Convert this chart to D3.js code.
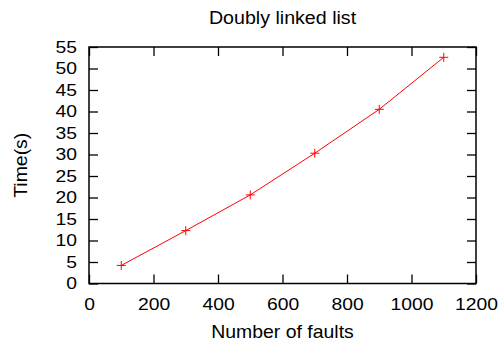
<!DOCTYPE html>
<html>
<head>
<meta charset="utf-8">
<script src="https://cdn.jsdelivr.net/npm/d3@7"></script>
<style>
  body { margin: 0; background: #fff; }
  text { font-family: "Liberation Sans", Arial, sans-serif; fill: #000; }
</style>
</head>
<body>
<svg id="chart"></svg>
<script>
//////////////// Daten ////////////////////
const faults = [100, 300, 500, 700, 900, 1100];
const times = [4.2, 12.3, 20.6, 30.3, 40.5, 52.6];
const xTicks = [0, 200, 400, 600, 800, 1000, 1200];
const yTicks = [0, 5, 10, 15, 20, 25, 30, 35, 40, 45, 50, 55];

//////////////// Layout ////////////////////
const W = 500, H = 348;
const margin = {top: 47, right: 24, bottom: 64.5, left: 89};
const width = W - margin.left - margin.right,
  height = H - margin.top - margin.bottom,
  tickLen = 9;

const svg = d3.select("#chart").attr("width", W).attr("height", H);
const g = svg.append("g")
  .attr("transform", "translate(" + margin.left + "," + margin.top + ")");

const x = d3.scaleLinear().domain([0, 1200]).range([0, width]);
const y = d3.scaleLinear().domain([0, 55]).range([height, 0]);

// Schrift breiter ziehen (Vorlage hat gestreckte Glyphen)
function stretch(sel, f) {
  sel.each(function() {
    const len = this.getComputedTextLength();
    d3.select(this).attr("textLength", len * f).attr("lengthAdjust", "spacingAndGlyphs");
  });
}

// Achsen (Ticks nach innen, auch gespiegelt oben/rechts)
const fmt = d3.format("d");
const xAxis = g.append("g").attr("transform", "translate(0," + height + ")")
  .call(d3.axisBottom(x).tickValues(xTicks).tickFormat(fmt).tickSizeInner(-tickLen).tickSizeOuter(0).tickPadding(15));
g.append("g")
  .call(d3.axisTop(x).tickValues(xTicks).tickSizeInner(-tickLen).tickSizeOuter(0).tickFormat(""));
const yAxis = g.append("g")
  .call(d3.axisLeft(y).tickValues(yTicks).tickFormat(fmt).tickSizeInner(-tickLen).tickSizeOuter(0).tickPadding(12));
g.append("g").attr("transform", "translate(" + width + ",0)")
  .call(d3.axisRight(y).tickValues(yTicks).tickSizeInner(-tickLen).tickSizeOuter(0).tickFormat(""));

g.selectAll(".domain").remove();
g.selectAll(".tick line").attr("stroke", "#000").attr("stroke-width", 1.3);
g.selectAll("g").attr("font-family", null).attr("font-size", null);
g.selectAll(".tick text").style("font-size", "16.5px");
stretch(xAxis.selectAll(".tick text"), 1.17);
stretch(yAxis.selectAll(".tick text"), 1.17);

// Rahmen
g.append("rect")
  .attr("width", width).attr("height", height)
  .attr("fill", "none").attr("stroke", "#000").attr("stroke-width", 1.5);

// Linie
const pts = faults.map((f, i) => ({x: f, y: times[i]}));
g.append("path")
  .datum(pts)
  .attr("fill", "none")
  .attr("stroke", "#ff0000")
  .attr("stroke-width", 1)
  .attr("d", d3.line().x(d => x(d.x)).y(d => y(d.y)));

// Marker (+)
const s = 4.5;
g.selectAll("path.pt")
  .data(pts)
  .enter()
  .append("path")
  .attr("class", "pt")
  .attr("fill", "none")
  .attr("stroke", "#ff0000")
  .attr("stroke-width", 1)
  .attr("d", d => {
    const cx = x(d.x), cy = y(d.y);
    return "M" + (cx - s) + "," + cy + "H" + (cx + s) + "M" + cx + "," + (cy - s) + "V" + (cy + s);
  });

// Titel und Beschriftungen
const title = svg.append("text")
  .attr("x", margin.left + width / 2).attr("y", 24)
  .attr("text-anchor", "middle").style("font-size", "18px")
  .text("Doubly linked list");
stretch(title, 1.09);
const xLabel = svg.append("text")
  .attr("x", margin.left + width / 2).attr("y", 338)
  .attr("text-anchor", "middle").style("font-size", "18.5px")
  .text("Number of faults");
stretch(xLabel, 1.05);
const yLabel = svg.append("text")
  .attr("transform", "translate(27," + (margin.top + height / 2) + ") rotate(-90)")
  .attr("text-anchor", "middle").style("font-size", "18.5px")
  .text("Time(s)");
stretch(yLabel, 1.05);
</script>
</body>
</html>
